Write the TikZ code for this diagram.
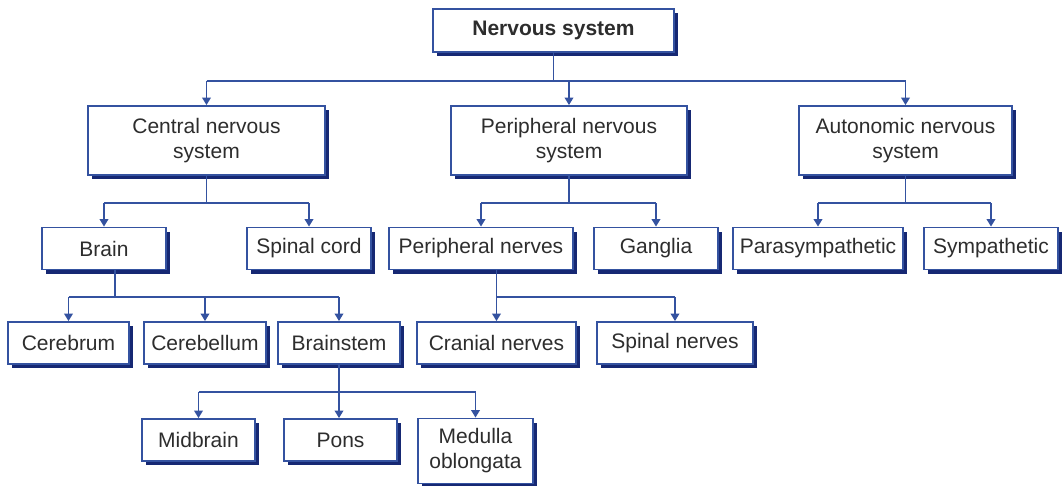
\documentclass[tikz,border=0pt]{standalone}
\usepackage{fontspec}
\setmainfont{Liberation Sans}
\usetikzlibrary{arrows.meta,shadows}
\definecolor{bordblue}{RGB}{52,82,160}
\definecolor{shadblue}{RGB}{22,40,115}
\definecolor{txtgray}{RGB}{45,45,45}
\tikzset{
  box/.style={draw=bordblue, line width=1.8pt, fill=white, inner sep=0pt,
    text=txtgray, align=center, font=\fontsize{21}{25}\selectfont,
    drop shadow={shadow xshift=4pt, shadow yshift=-4pt, fill=shadblue, opacity=1}},
  conn/.style={draw=bordblue, line width=1.8pt},
  arr/.style={conn, -{Triangle[width=8.5pt,length=7.5pt]}, shorten >=0pt},
}
\begin{document}
\begin{tikzpicture}[x=1pt,y=-1pt]
\useasboundingbox[fill=white] (0,0) rectangle (1062,485);
% level 0
\node[box, minimum width=241pt, minimum height=43pt, font=\fontsize{21}{25}\selectfont\bfseries] (ns) at (553.5,30.5) {Nervous system};
% level 1
\node[box, minimum width=237pt, minimum height=69pt] (cns) at (206.5,140.5) {Central nervous\\system};
\node[box, minimum width=236pt, minimum height=69pt] (pns) at (569,140.5) {Peripheral nervous\\system};
\node[box, minimum width=213pt, minimum height=69pt] (ans) at (905.5,140.5) {Autonomic nervous\\system};
% level 2
\node[box, minimum width=124pt, minimum height=42pt] (brain) at (104,248.5) {Brain};
\node[box, minimum width=124pt, minimum height=42pt] (spinal) at (309,248.5) {Spinal cord};
\node[box, minimum width=184pt, minimum height=42pt] (pnerves) at (481,248.5) {Peripheral nerves};
\node[box, minimum width=124pt, minimum height=42pt] (ganglia) at (656,248.5) {Ganglia};
\node[box, minimum width=170pt, minimum height=42pt] (para) at (818,248.5) {Parasympathetic};
\node[box, minimum width=134pt, minimum height=42pt] (symp) at (991,248.5) {Sympathetic};
% level 3
\node[box, minimum width=121pt, minimum height=42pt] (cerebrum) at (68.5,343) {Cerebrum};
\node[box, minimum width=122pt, minimum height=42pt] (cerebellum) at (205,343) {Cerebellum};
\node[box, minimum width=122pt, minimum height=42pt] (brainstem) at (339,343) {Brainstem};
\node[box, minimum width=159pt, minimum height=42pt] (cranial) at (496.5,343) {Cranial nerves};
\node[box, minimum width=156pt, minimum height=42pt] (spinaln) at (675,343) {Spinal nerves};
% level 4
\node[box, minimum width=113pt, minimum height=42pt] (midbrain) at (198.5,440) {Midbrain};
\node[box, minimum width=113pt, minimum height=42pt] (pons) at (340.5,440) {Pons};
\node[box, minimum width=115pt, minimum height=65pt] (medulla) at (475.5,451) {Medulla\\oblongata};
% bus coordinates
\coordinate (b0) at (0,81);
\coordinate (b1) at (0,203);
\coordinate (b2) at (0,297);
\coordinate (b3) at (0,392);
\coordinate (brainout) at (115,269.5);
% level 0 -> 1
\draw[conn] (ns.south) -- (ns.south |- b0);
\draw[conn] (cns.north |- b0) -- (ans.north |- b0);
\foreach \c in {cns,pns,ans} \draw[arr] (\c.north |- b0) -- (\c.north);
% cns
\draw[conn] (cns.south) -- (cns.south |- b1);
\draw[conn] (brain.north |- b1) -- (spinal.north |- b1);
\foreach \c in {brain,spinal} \draw[arr] (\c.north |- b1) -- (\c.north);
% pns
\draw[conn] (pns.south) -- (pns.south |- b1);
\draw[conn] (pnerves.north |- b1) -- (ganglia.north |- b1);
\foreach \c in {pnerves,ganglia} \draw[arr] (\c.north |- b1) -- (\c.north);
% ans
\draw[conn] (ans.south) -- (ans.south |- b1);
\draw[conn] (para.north |- b1) -- (symp.north |- b1);
\foreach \c in {para,symp} \draw[arr] (\c.north |- b1) -- (\c.north);
% brain
\draw[conn] (brainout) -- (brainout |- b2);
\draw[conn] (cerebrum.north |- b2) -- (brainstem.north |- b2);
\foreach \c in {cerebrum,cerebellum,brainstem} \draw[arr] (\c.north |- b2) -- (\c.north);
% peripheral nerves
\draw[conn] (cranial.north |- pnerves.south) -- (cranial.north |- b2);
\draw[conn] (cranial.north |- b2) -- (spinaln.north |- b2);
\foreach \c in {cranial,spinaln} \draw[arr] (\c.north |- b2) -- (\c.north);
% brainstem
\draw[conn] (brainstem.south) -- (brainstem.south |- b3);
\draw[conn] (midbrain.north |- b3) -- (medulla.north |- b3);
\foreach \c in {midbrain,medulla} \draw[arr] (\c.north |- b3) -- (\c.north);
\draw[arr] (brainstem.south |- b3) -- (brainstem.south |- pons.north);
\end{tikzpicture}
\end{document}
